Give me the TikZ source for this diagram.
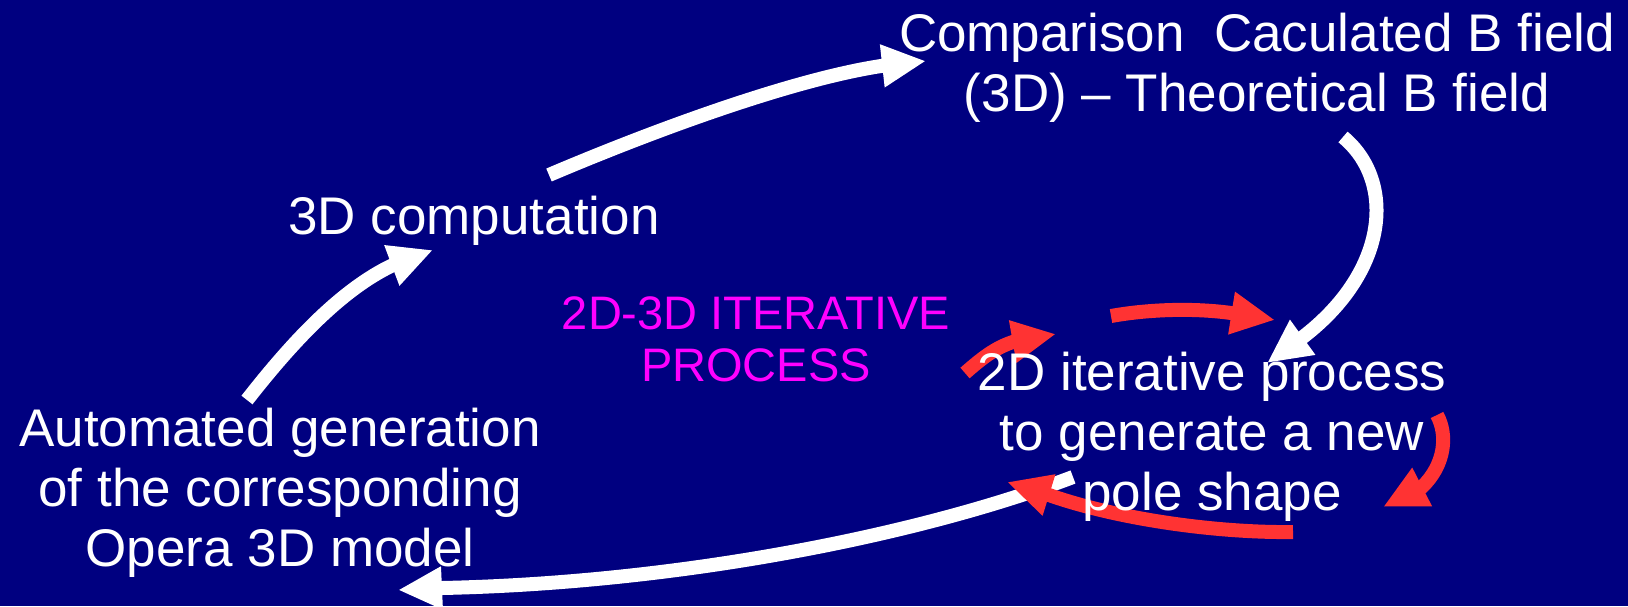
\documentclass[tikz,border=0pt]{standalone}
\usepackage{fontspec}
\setmainfont{Liberation Sans}
\usetikzlibrary{arrows.meta}
\definecolor{slidebg}{RGB}{0,0,128}
\definecolor{loopred}{RGB}{255,51,51}
\definecolor{loopmag}{RGB}{255,0,255}
\begin{document}
\begin{tikzpicture}[x=1pt,y=-1pt,
  flow/.style={line width=14pt,-{Triangle[length=44pt,width=40pt]}},
  whiteflow/.style={flow,draw=white},
  redflow/.style={flow,draw=loopred},
  steptext/.style={text=white,font=\fontsize{53}{60}\selectfont,
    align=center,anchor=base,inner sep=0pt},
  looptext/.style={text=loopmag,font=\fontsize{47}{52}\selectfont,
    align=center,anchor=base,inner sep=0pt}]
% slide background
\fill[slidebg] (0,0) rectangle (1628,606);
\useasboundingbox (0,0) rectangle (1628,606);

% arrow end points
\coordinate (w1s) at (247,400);  \coordinate (w1b) at (393,265);  \coordinate (w1t) at (433,250);
\coordinate (w2s) at (549,175);  \coordinate (w2b) at (881,66);   \coordinate (w2t) at (926,61);
\coordinate (w3s) at (1343,137); \coordinate (w3b) at (1303,337); \coordinate (w3t) at (1267,363);
\coordinate (w4s) at (1073,477); \coordinate (w4b) at (442,588);  \coordinate (w4t) at (398,590);
\coordinate (r1s) at (965,373);  \coordinate (r1b) at (1016,341); \coordinate (r1t) at (1056,334);
\coordinate (r2s) at (1111,316); \coordinate (r2b) at (1231,313); \coordinate (r2t) at (1275,320);
\coordinate (r3s) at (1437,415); \coordinate (r3b) at (1422,487); \coordinate (r3t) at (1383,507);
\coordinate (r4s) at (1293,532); \coordinate (r4b) at (1049,495); \coordinate (r4t) at (1007,482);

% main 3D loop
\draw[whiteflow] (w1s) .. controls (290,345) and (340,290) .. (w1b) -- (w1t);
\draw[whiteflow] (w2s) .. controls (650,132) and (790,80) .. (w2b) -- (w2t);
\draw[whiteflow] (w3s) .. controls (1395,180) and (1390,270) .. (w3b) -- (w3t);
\draw[whiteflow] (w4s) .. controls (920,535) and (680,583) .. (w4b) -- (w4t);

% inner 2D loop
\draw[redflow] (r1s) .. controls (980,360) and (995,347) .. (r1b) -- (r1t);
\draw[redflow] (r2s) .. controls (1150,309) and (1195,308) .. (r2b) -- (r2t);
\draw[redflow] (r3s) .. controls (1448,435) and (1445,465) .. (r3b) -- (r3t);
\draw[redflow] (r4s) .. controls (1220,533) and (1120,520) .. (r4b) -- (r4t);

% labels (anchored on the baseline of their last line)
\node[steptext] (cmp) at (1257,111) {Comparison\ \ Caculated B field\\(3D) – Theoretical B field};
\node[steptext] (comp) at (474,234) {3D computation};
\node[steptext] (gen) at (280,566) {Automated generation\\of the corresponding\\Opera 3D model};
\node[steptext] (twod) at (1212,510) {2D iterative process\\to generate a new\\pole shape};
\node[looptext] (iter) at (756,381) {2D-3D ITERATIVE\\PROCESS};
\end{tikzpicture}
\end{document}
